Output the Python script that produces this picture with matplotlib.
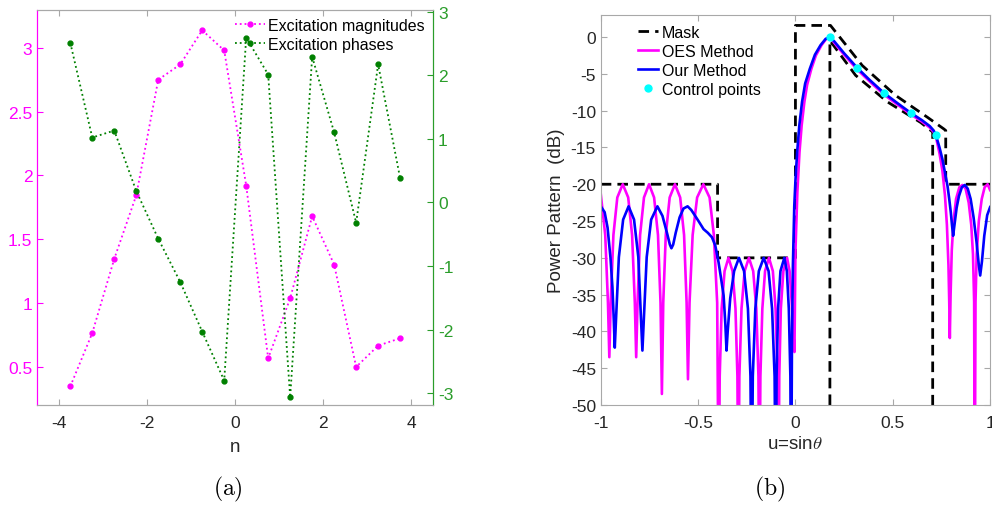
import matplotlib
matplotlib.use("Agg")
import matplotlib.pyplot as plt

plt.rcParams['font.family'] = ['Liberation Sans', 'DejaVu Sans']
plt.rcParams['mathtext.fontset'] = 'cm'
plt.rcParams['axes.unicode_minus'] = False

# (a) excitations of the 16 elements
n_pos = [-3.75, -3.25, -2.75, -2.25, -1.75, -1.25, -0.75, -0.25,
         0.25, 0.75, 1.25, 1.75, 2.25, 2.75, 3.25, 3.75]
exc_mag = [0.344, 0.763, 1.345, 1.843, 2.75, 2.87, 3.138, 2.98,
           1.92, 0.565, 1.035, 1.68, 1.30, 0.497, 0.664, 0.722]
exc_phase = [2.51, 1.02, 1.13, 0.18, -0.57, -1.25, -2.03, -2.80,
             2.59, 2.01, -3.06, 2.29, 1.10, -0.32, 2.17, 0.38]

# (b) mask
mask_up_u = [-1.0, -0.4, -0.4, 0.0, 0.0, 0.18, 0.343, 0.515, 0.678, 0.763, 0.772, 0.772, 1.0]
mask_up_db = [-20, -20, -30, -30, 1.58, 1.58, -3.86, -7.94, -10.9, -12.5, -12.7, -20, -20]
mask_lo_u = [0.177, 0.177, 0.309, 0.472, 0.643, 0.705, 0.705]
mask_lo_db = [-50, -0.46, -5.2, -8.8, -11.6, -12.9, -50]

# (b) OES method pattern
oes_u = [-1.0, -0.977, -0.963, -0.956,
         -0.949, -0.935, -0.915, -0.887, -0.859, -0.839, -0.825, -0.818,
         -0.811, -0.798, -0.778, -0.752, -0.726, -0.706, -0.693, -0.686,
         -0.679, -0.666, -0.646, -0.619, -0.592, -0.572, -0.559, -0.552,
         -0.544, -0.528, -0.505, -0.473, -0.441, -0.419, -0.402, -0.394,
         -0.389, -0.379, -0.364, -0.344, -0.323, -0.308, -0.298, -0.293,
         -0.288, -0.277, -0.261, -0.239, -0.217, -0.201, -0.190, -0.185,
         -0.180, -0.170, -0.156, -0.136, -0.116, -0.102, -0.092, -0.087,
         -0.083, -0.075, -0.062, -0.043, -0.030, -0.019, -0.010, -0.005,
         0.0, 0.01, 0.021, 0.032, 0.046, 0.06, 0.082, 0.105, 0.134, 0.158, 0.177,
         0.2, 0.25, 0.317, 0.38, 0.454, 0.52, 0.592, 0.65, 0.69, 0.71, 0.721,
         0.74, 0.755, 0.768, 0.778, 0.786, 0.790, 0.793, 0.797, 0.803, 0.812,
         0.825, 0.842, 0.858, 0.874, 0.890, 0.903, 0.912, 0.918, 0.921, 0.925,
         0.931, 0.942, 0.957, 0.972, 0.987, 1.0]
oes_db = [-21.3, -26.9, -36.1, -43.5,
          -36.1, -26.9, -21.8, -20.0, -21.8, -26.9, -36.1, -43.5,
          -36.1, -26.9, -21.8, -20.0, -21.8, -26.9, -36.1, -48.5,
          -36.1, -26.9, -21.8, -20.0, -21.8, -26.9, -36.1, -46.5,
          -36.1, -26.9, -21.8, -20.0, -21.8, -26.9, -36.1, -65,
          -46.1, -36.9, -31.8, -30.0, -31.8, -36.9, -46.1, -65,
          -46.1, -36.9, -31.8, -30.0, -31.8, -36.9, -46.1, -65,
          -46.1, -36.9, -31.8, -30.0, -31.8, -36.9, -46.1, -65,
          -46.1, -36.9, -31.8, -30.0, -31.8, -36.1, -40.5, -42.8,
          -29.2, -21.0, -15.6, -12.0, -8.8, -6.5, -4.3, -2.5, -1.1, -0.25, 0.0,
          -0.8, -2.4, -4.4, -6.0, -7.8, -9.1, -10.5, -11.5, -12.3, -12.9, -13.5,
          -15.8, -18.2, -21.5, -25.5, -31.0, -36.0, -40.9, -35.0, -29.0, -25.0,
          -22.0, -20.4, -20.1, -20.6, -22.5, -25.5, -29.5, -36.0, -65, -36.0,
          -29.5, -25.0, -22.0, -20.4, -20.0, -20.8]

# (b) our method pattern
our_u = [-1.0, -0.98, -0.965, -0.95, -0.94, -0.933, -0.928,
         -0.921, -0.907, -0.885, -0.857, -0.829, -0.807, -0.793, -0.786,
         -0.779, -0.764, -0.741, -0.709, -0.683, -0.660, -0.645, -0.637, -0.628,
         -0.615, -0.595, -0.575, -0.554, -0.535, -0.515, -0.498, -0.472, -0.450,
         -0.429, -0.412, -0.395, -0.382, -0.369, -0.360, -0.354,
         -0.348, -0.335, -0.315, -0.290, -0.264, -0.244, -0.231, -0.225,
         -0.219, -0.206, -0.188, -0.163, -0.138, -0.120, -0.107, -0.101,
         -0.097, -0.089, -0.077, -0.057, -0.044, -0.034, -0.026, -0.022,
         -0.018, -0.013, -0.006, 0.0, 0.009, 0.02, 0.034, 0.05, 0.074, 0.1, 0.129, 0.155, 0.177,
         0.2, 0.25, 0.317, 0.38, 0.454, 0.52, 0.592, 0.65, 0.69, 0.71, 0.721,
         0.74, 0.755, 0.768, 0.781, 0.790, 0.798, 0.804, 0.810, 0.818, 0.828,
         0.840, 0.855, 0.870, 0.885, 0.900, 0.915, 0.930, 0.942, 0.949, 0.958,
         0.970, 0.985, 1.0]
our_db = [-23.0, -23.8, -25.9, -30.0, -34.0, -38.5, -42.2,
          -38.0, -29.9, -24.8, -23.0, -24.8, -29.9, -38.5, -42.6,
          -38.5, -29.9, -24.8, -23.0, -24.3, -26.6, -28.2, -28.7, -28.2,
          -26.6, -24.5, -23.3, -23.0, -23.5, -24.3, -25.0, -26.1, -26.6,
          -27.2, -28.3, -30.6, -32.8, -35.1, -39.0, -42.6,
          -40.0, -35.5, -31.8, -30.0, -31.8, -36.9, -46.1, -65,
          -46.1, -36.9, -31.8, -30.0, -31.8, -36.9, -46.1, -65,
          -46.1, -36.9, -31.8, -30.0, -31.8, -36.9, -46.1, -65,
          -42.0, -31.0, -23.0, -19.5, -15.6, -12.0, -8.8, -6.3, -4.3, -2.4, -1.1, -0.25, 0.0,
          -0.6, -2.2, -4.17, -5.8, -7.58, -8.9, -10.3, -11.3, -12.1, -12.7, -13.3,
          -15.0, -16.6, -18.4, -20.2, -22.0, -23.8, -25.5, -27.0, -25.3, -23.2,
          -21.6, -20.4, -20.1, -20.6, -22.0, -24.5, -27.8, -31.0, -32.4, -30.5,
          -27.0, -24.2, -23.1]

ctrl_u = [0.175, 0.317, 0.454, 0.592, 0.721]
ctrl_db = [0.0, -4.17, -7.58, -10.3, -13.3]

fig = plt.figure(figsize=(9.92, 5.06), dpi=100)
grey = '#a8a8a8'
magenta = '#ff00ff'
green = '#008000'
green_ax = '#2a9d2a'

# ---- (a) ----
ax1 = fig.add_axes([0.0376, 0.198, 0.399, 0.781])
ax2 = ax1.twinx()
l1, = ax1.plot(n_pos, exc_mag, ':', color=magenta, lw=1.3, marker='o', ms=3.5,
               label='Excitation magnitudes')
l2, = ax2.plot(n_pos, exc_phase, ':', color=green, lw=1.3, marker='o', ms=3.5,
               label='Excitation phases')
ax1.set_xlim(-4.5, 4.5)
ax1.set_ylim(0.2, 3.3)
ax2.set_ylim(-3.18, 3.03)
ax1.set_xticks([-4, -2, 0, 2, 4])
ax1.set_yticks([0.5, 1, 1.5, 2, 2.5, 3])
ax1.set_yticklabels(['0.5', '1', '1.5', '2', '2.5', '3'])
ax2.set_yticks([-3, -2, -1, 0, 1, 2, 3])
ax1.set_xlabel('n', fontsize=13.5, color='#262626', labelpad=6)
ax1.tick_params(axis='x', direction='in', length=4, top=True, colors=grey,
                labelcolor='#262626', labelsize=12.5, pad=7)
ax1.tick_params(axis='y', direction='in', length=4, colors=magenta, labelsize=12.5)
ax2.tick_params(axis='y', direction='in', length=4, colors=green_ax, labelsize=12.5)
for a in (ax1, ax2):
    a.spines['top'].set_color(grey)
    a.spines['bottom'].set_color(grey)
    a.spines['left'].set_color(magenta)
    a.spines['right'].set_color(green_ax)
ax1.legend(handles=[l1, l2], loc='upper right', frameon=False, fontsize=11.5,
           handlelength=1.9, handletextpad=0.2, borderaxespad=0.1, labelspacing=0.25)

# ---- (b) ----
ax3 = fig.add_axes([0.6056, 0.1976, 0.3925, 0.7708])
ax3.plot(mask_up_u, mask_up_db, color='black', lw=2, dashes=(3.8, 2.2), label='Mask')
ax3.plot(mask_lo_u, mask_lo_db, color='black', lw=2, dashes=(3.8, 2.2))
ax3.plot(oes_u, oes_db, color=magenta, lw=1.9, label='OES Method')
ax3.plot(our_u, our_db, color='#0000ff', lw=1.9, label='Our Method')
ax3.plot(ctrl_u, ctrl_db, 'o', color='cyan', ms=5, label='Control points')
ax3.set_xlim(-1, 1)
ax3.set_ylim(-50, 3)
ax3.set_xticks([-1, -0.5, 0, 0.5, 1])
ax3.set_xticklabels(['-1', '-0.5', '0', '0.5', '1'])
ax3.set_yticks(range(-50, 1, 5))
ax3.set_xlabel(r'u=sin$\it{\theta}$', fontsize=13.5, color='#262626', labelpad=4)
ax3.set_ylabel('Power Pattern  (dB)', fontsize=13.5, color='#262626', labelpad=4)
ax3.tick_params(direction='in', length=4, top=True, right=True, colors=grey,
                labelcolor='#262626', labelsize=12.5)
ax3.tick_params(axis='x', pad=7)
for s in ax3.spines.values():
    s.set_color(grey)
ax3.legend(loc='upper left', frameon=False, fontsize=11.5, handlelength=1.3,
           handletextpad=0.2, borderaxespad=0.2, labelspacing=0.25,
           bbox_to_anchor=(0.07, 1.0))

fig.text(228 / 992, 1 - 489 / 506, r'$\mathrm{(a)}$', fontsize=17, ha='center', va='center')
fig.text(770 / 992, 1 - 489 / 506, r'$\mathrm{(b)}$', fontsize=17, ha='center', va='center')

fig.savefig('out.png', dpi=100)
